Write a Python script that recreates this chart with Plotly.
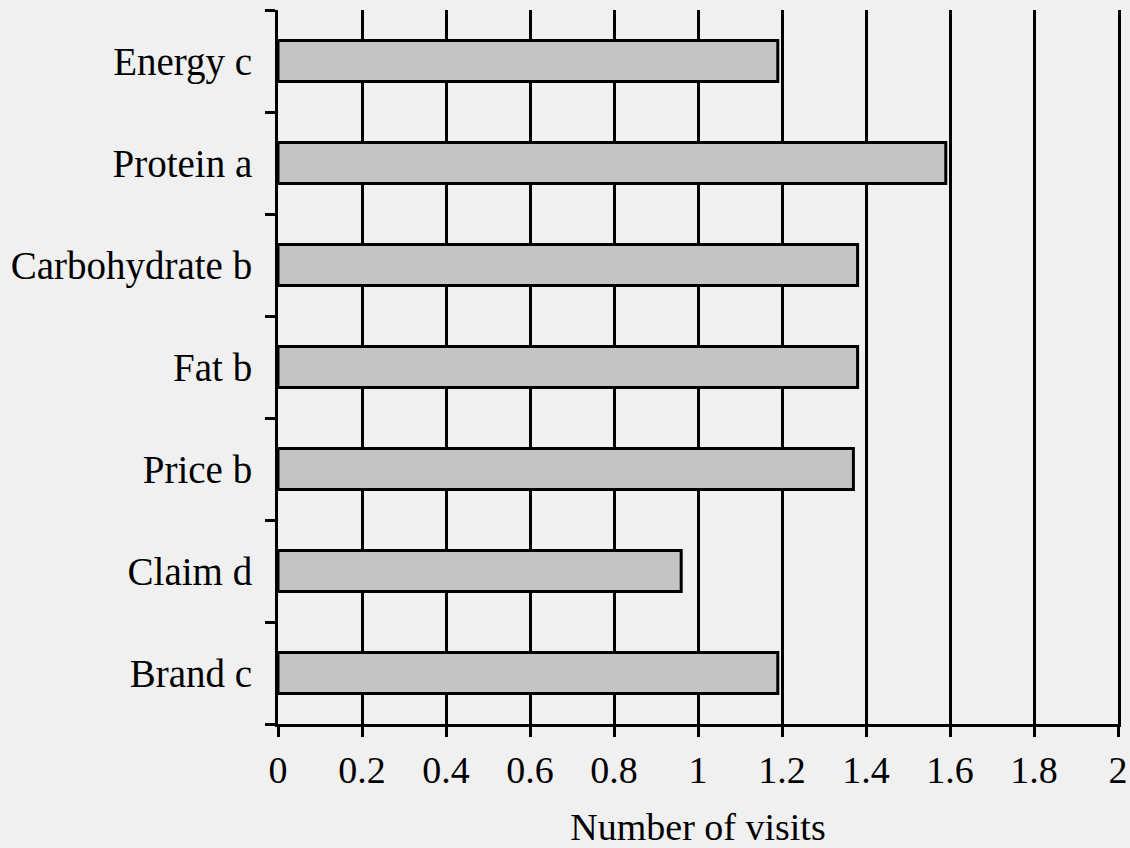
import plotly.graph_objects as go

categories = ["Energy c", "Protein a", "Carbohydrate b", "Fat b", "Price b", "Claim d", "Brand c"]
visits = [1.19, 1.59, 1.38, 1.38, 1.37, 0.96, 1.19]
x_ticks = [0, 0.2, 0.4, 0.6, 0.8, 1, 1.2, 1.4, 1.6, 1.8, 2]
x_tick_labels = ["0", "0.2", "0.4", "0.6", "0.8", "1", "1.2", "1.4", "1.6", "1.8", "2"]

FONT = "Liberation Serif"
BG = "#f0f0f0"

fig = go.Figure(
    go.Bar(
        x=visits,
        y=categories,
        orientation="h",
        width=0.4,
        marker=dict(color="#c4c4c4", line=dict(color="black", width=3)),
        showlegend=False,
    )
)

fig.update_layout(
    width=1130,
    height=848,
    margin=dict(l=278, r=12, t=10, b=124, autoexpand=False),
    paper_bgcolor=BG,
    plot_bgcolor=BG,
    font=dict(family=FONT, size=39, color="black"),
)

fig.update_xaxes(
    range=[0, 2],
    tickvals=x_ticks,
    ticktext=x_tick_labels,
    tickfont=dict(family=FONT, size=38),
    showgrid=True,
    gridcolor="black",
    gridwidth=2.5,
    zeroline=False,
    showline=True,
    linecolor="black",
    linewidth=3,
    ticks="outside",
    ticklen=10,
    tickwidth=2.5,
    tickcolor="black",
    ticklabelstandoff=0,
    automargin=False,
    title=dict(text="Number of visits", font=dict(family=FONT, size=38), standoff=25),
)

fig.update_yaxes(
    categoryorder="array",
    categoryarray=categories[::-1],
    tickson="boundaries",
    ticks="outside",
    ticklen=10,
    tickwidth=3,
    tickcolor="black",
    showline=True,
    mirror=True,
    linecolor="black",
    linewidth=3,
    showgrid=False,
    zeroline=False,
    automargin=False,
    ticklabelstandoff=15,
)

fig.write_html(
    "out.html",
    config={"displayModeBar": False},
    post_script="document.body.style.margin='0';document.body.style.background='" + BG + "';window.dispatchEvent(new Event('resize'));",
)
